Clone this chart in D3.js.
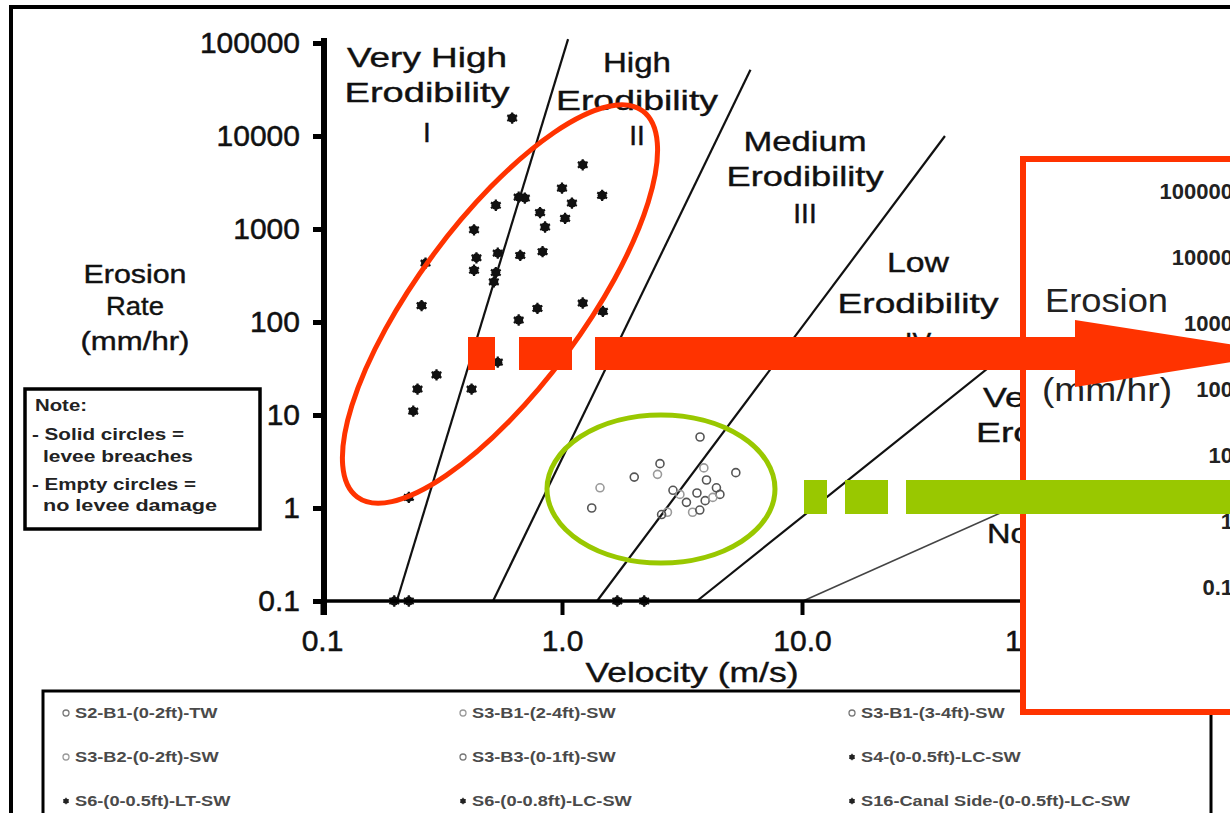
<!DOCTYPE html>
<html>
<head>
<meta charset="utf-8">
<script src="https://cdn.jsdelivr.net/npm/d3@7"></script>
<style>
  body { margin: 0; background: #fff; }
  svg text { font-family: "Liberation Sans", Arial, sans-serif; }
</style>
</head>
<body>
<svg id="chart"></svg>
<script>
// ---- data ----
const yTickValues = [0.1, 1, 10, 100, 1000, 10000, 100000];
const yTickLabels = ["0.1", "1", "10", "100", "1000", "10000", "100000"];
const xTickValues = [0.1, 1, 10, 100];
const xTickLabels = ["0.1", "1.0", "10.0", "100.0"];

// erodibility category boundaries [velocity m/s, erosion mm/hr]
const boundaryI_II = [[0.205, 0.1], [1.06, 110000]];
const boundaryII_III = [[0.516, 0.1], [6.1, 51500]];
const boundaryIII_IV = [[1.40, 0.1], [39.4, 10000]];
const boundaryIV_V = [[3.65, 0.1], [100, 93]];
const boundaryV_VI = [[10.1, 0.1], [100, 1.4]];

const zoneNames = [
  ["Very High", "Erodibility", "I"],
  ["High", "Erodibility", "II"],
  ["Medium", "Erodibility", "III"],
  ["Low", "Erodibility", "IV"],
  ["Very Low", "Erodibility", "V"],
  ["Non-Erodible", "VI"]
];

// solid circles = levee breaches
const breachPoints = [
  [0.62, 15600], [1.22, 4900], [1.0, 2750], [1.47, 2300], [0.70, 2150], [0.66, 2200],
  [0.53, 1800], [1.10, 1900], [0.81, 1500], [1.03, 1300], [0.85, 1050], [0.43, 980],
  [0.54, 550], [0.67, 520], [0.83, 570], [0.27, 430], [0.44, 490], [0.43, 360],
  [0.53, 340], [0.52, 270], [0.26, 150], [1.22, 160], [1.48, 130], [0.79, 140],
  [0.66, 105], [0.54, 37], [0.30, 27], [0.25, 19], [0.42, 19], [0.24, 11],
  [0.23, 1.3], [0.20, 0.1], [0.23, 0.1], [1.7, 0.1], [2.2, 0.1]
];

// empty circles = no levee damage
const noDamagePoints = [
  [3.76, 5.8], [2.56, 3.0], [2.5, 2.3], [2.0, 2.15], [5.3, 2.4], [1.44, 1.65],
  [1.33, 1.0], [2.9, 1.55], [3.9, 2.7], [4.0, 2.0], [4.4, 1.65], [3.1, 1.4],
  [3.65, 1.45], [3.95, 1.2], [3.5, 0.9], [4.55, 1.4], [3.3, 1.15], [2.75, 0.9],
  [2.6, 0.85], [3.75, 0.95], [4.25, 1.3]
];

const legendNames = [
  "S2-B1-(0-2ft)-TW", "S3-B1-(2-4ft)-SW", "S3-B1-(3-4ft)-SW",
  "S3-B2-(0-2ft)-SW", "S3-B3-(0-1ft)-SW", "S4-(0-0.5ft)-LC-SW",
  "S6-(0-0.5ft)-LT-SW", "S6-(0-0.8ft)-LC-SW", "S16-Canal Side-(0-0.5ft)-LC-SW"
];
const legendBreached = [false, false, false, false, false, true, true, true, true];

const noteLines = ["Note:", "- Solid circles =", "levee breaches", "- Empty circles =", "no levee damage"];
const insetTickValues = [0.1, 1, 10, 100, 1000, 10000, 100000];
const insetTickLabels = ["0.1", "1", "10", "100", "1000", "10000", "100000"];

// ---- layout ----
const W = 1230, H = 813;
const RED = "#ff3300", GREEN = "#99c800";

const svg = d3.select("#chart").attr("width", W).attr("height", H);

const x = d3.scaleLog().domain([0.1, 100]).range([322, 1042]);
const y = d3.scaleLog().domain([0.1, 100000]).range([601, 43]);

function stretch(sel, width) {
  sel.attr("textLength", width).attr("lengthAdjust", "spacingAndGlyphs");
}

// anything left of the inset box
svg.append("clipPath").attr("id", "leftOfInset")
  .append("rect").attr("x", 0).attr("y", 0).attr("width", 1021).attr("height", H);

// outer frame
svg.append("line").attr("x1", 9).attr("x2", W).attr("y1", 7).attr("y2", 7)
  .attr("stroke", "#000").attr("stroke-width", 4);
svg.append("line").attr("x1", 11).attr("x2", 11).attr("y1", 5).attr("y2", H)
  .attr("stroke", "#000").attr("stroke-width", 4);

// legend box
svg.append("rect").attr("x", 43).attr("y", 691).attr("width", 1168).attr("height", 160)
  .attr("fill", "#fff").attr("stroke", "#000").attr("stroke-width", 3);

const legCols = [66, 463, 852];
const legRows = [713, 757, 801];
const leg = svg.append("g").selectAll("g").data(legendNames).join("g")
  .attr("transform", (d, i) => `translate(${legCols[i % 3]},${legRows[Math.floor(i / 3)]})`);
leg.each(function (d, i) {
  const g = d3.select(this);
  if (legendBreached[i]) {
    g.append("circle").attr("r", 2.6).attr("fill", "#222");
    g.append("path").attr("d", d3.symbol(d3.symbolAsterisk, 28)()).attr("stroke", "#222").attr("stroke-width", 1.2);
  } else {
    g.append("circle").attr("r", 3).attr("fill", "none").attr("stroke", i % 2 ? "#999" : "#777").attr("stroke-width", 1.3);
  }
});
leg.append("text").attr("x", 9).attr("dy", "0.35em")
  .attr("font-size", 14).attr("font-weight", "bold").attr("fill", "#4a4a4a")
  .text(d => d)
  .each(function () { stretch(d3.select(this), this.getComputedTextLength() * 1.3); });

// note box
svg.append("rect").attr("x", 25).attr("y", 389).attr("width", 235).attr("height", 140)
  .attr("fill", "#fff").attr("stroke", "#000").attr("stroke-width", 3.5);
const noteLayout = [[35, 411, 52], [32, 440, 152], [43, 462, 150], [32, 490, 164], [43, 511, 174]];
svg.append("g").selectAll("text").data(noteLines).join("text")
  .attr("x", (d, i) => noteLayout[i][0]).attr("y", (d, i) => noteLayout[i][1])
  .attr("font-size", 16).attr("font-weight", "bold").attr("fill", "#222")
  .text(d => d)
  .each(function (d, i) { stretch(d3.select(this), noteLayout[i][2]); });

// left axis title
const yTitle = [["Erosion", 283, 103], ["Rate", 315, 58], ["(mm/hr)", 350, 109]];
svg.append("g").selectAll("text").data(yTitle).join("text")
  .attr("x", 135).attr("y", d => d[1]).attr("text-anchor", "middle")
  .attr("font-size", 26).attr("fill", "#111").attr("stroke", "#111").attr("stroke-width", 0.4)
  .text(d => d[0])
  .each(function (d) { stretch(d3.select(this), d[2]); });

// x axis title
svg.append("text").attr("x", 692).attr("y", 682).attr("text-anchor", "middle")
  .attr("font-size", 28).attr("fill", "#111").attr("stroke", "#111").attr("stroke-width", 0.4)
  .text("Velocity (m/s)")
  .call(s => stretch(s, 213));

// category boundary lines
const lineGen = d3.line().x(d => x(d[0])).y(d => y(d[1]));
const boundaries = [boundaryI_II, boundaryII_III, boundaryIII_IV, boundaryIV_V, boundaryV_VI];
svg.append("g").selectAll("path").data(boundaries).join("path")
  .attr("d", lineGen).attr("fill", "none")
  .attr("stroke", (d, i) => i === 4 ? "#444" : "#111")
  .attr("stroke-width", (d, i) => i === 4 ? 1.6 : 2.2);

// category labels
const zoneLayout = [
  { cx: 427, ys: [67, 102, 142], ws: [160, 165, 0] },
  { cx: 637, ys: [72, 110, 145], ws: [68, 162, 0] },
  { cx: 805, ys: [151, 186, 223], ws: [123, 157, 0] },
  { cx: 918, ys: [272, 313, 352], ws: [62, 161, 0] },
  { cx: 1057, ys: [407, 442, 480], ws: [148, 162, 0] },
  { cx: 1082, ys: [543, 580], ws: [190, 0] }
];
const zoneG = svg.append("g").attr("clip-path", "url(#leftOfInset)");
zoneNames.forEach((lines, zi) => {
  const lay = zoneLayout[zi];
  lines.forEach((t, li) => {
    const txt = zoneG.append("text").attr("x", lay.cx).attr("y", lay.ys[li])
      .attr("text-anchor", "middle").attr("font-size", 28).attr("fill", "#111")
      .attr("stroke", "#111").attr("stroke-width", 0.4).text(t);
    if (lay.ws[li]) stretch(txt, lay.ws[li]);
  });
});

// points
svg.append("g").selectAll("circle").data(noDamagePoints).join("circle")
  .attr("cx", d => x(d[0])).attr("cy", d => y(d[1])).attr("r", 4)
  .attr("fill", "none").attr("stroke", (d, i) => i % 3 === 2 ? "#9a9a9a" : "#555")
  .attr("stroke-width", 1.6);

const solid = svg.append("g").selectAll("g").data(breachPoints).join("g")
  .attr("transform", d => `translate(${x(d[0])},${y(d[1])})`);
solid.append("circle").attr("r", 4.5).attr("fill", "#111");
solid.append("path").attr("d", d3.symbol(d3.symbolAsterisk, 90)())
  .attr("stroke", "#111").attr("stroke-width", 2.2);

// axes
const yAxis = svg.append("g").attr("transform", "translate(324,0)")
  .call(d3.axisLeft(y).tickValues(yTickValues)
    .tickFormat((d, i) => yTickLabels[i]).tickSize(11).tickPadding(13));
yAxis.select(".domain").remove();
yAxis.selectAll(".tick line").attr("stroke", "#000").attr("stroke-width", 5);
yAxis.selectAll(".tick text").attr("font-size", 30).attr("fill", "#111")
  .attr("stroke", "#111").attr("stroke-width", 0.5)
  .attr("font-family", "Liberation Sans, Arial, sans-serif");
svg.append("line").attr("x1", 324).attr("x2", 324).attr("y1", 38).attr("y2", 615)
  .attr("stroke", "#000").attr("stroke-width", 6);

const xAxis = svg.append("g").attr("transform", "translate(0,601)")
  .call(d3.axisBottom(x).tickValues(xTickValues)
    .tickFormat((d, i) => xTickLabels[i]).tickSize(14).tickPadding(15));
xAxis.select(".domain").remove();
xAxis.selectAll(".tick line").attr("stroke", "#000").attr("stroke-width", 4);
xAxis.selectAll(".tick text").attr("font-size", 30).attr("fill", "#111")
  .attr("stroke", "#111").attr("stroke-width", 0.5)
  .attr("font-family", "Liberation Sans, Arial, sans-serif");
svg.append("line").attr("x1", 322).attr("x2", W).attr("y1", 601).attr("y2", 601)
  .attr("stroke", "#000").attr("stroke-width", 3.5);

// highlight ellipses (centres in data units)
const redCentre = [0.5516, 156];
const greenCentre = [2.585, 1.6];
svg.append("ellipse")
  .attr("transform", `translate(${x(redCentre[0])},${y(redCentre[1])}) rotate(-53.5)`)
  .attr("rx", 240).attr("ry", 83)
  .attr("fill", "none").attr("stroke", RED).attr("stroke-width", 5);
svg.append("ellipse")
  .attr("cx", x(greenCentre[0])).attr("cy", y(greenCentre[1]))
  .attr("rx", 114).attr("ry", 74)
  .attr("fill", "none").attr("stroke", GREEN).attr("stroke-width", 5);

// zoomed inset of the source chart
const inset = svg.append("g");
inset.append("rect").attr("x", 1023).attr("y", 159).attr("width", 260).attr("height", 553)
  .attr("fill", "#fff").attr("stroke", RED).attr("stroke-width", 6);
const yInset = d3.scaleLog().domain([0.1, 100000]).range([587, 191]);
const insetAxis = inset.append("g").attr("transform", "translate(1245,0)")
  .call(d3.axisLeft(yInset).tickValues(insetTickValues)
    .tickFormat((d, i) => insetTickLabels[i]).tickSize(6).tickPadding(6));
insetAxis.select(".domain").remove();
insetAxis.selectAll(".tick text").attr("font-size", 22).attr("font-weight", "bold")
  .attr("fill", "#222").attr("font-family", "Liberation Sans, Arial, sans-serif");
inset.append("text").attr("x", 1045).attr("y", 312).attr("font-size", 33).attr("fill", "#222")
  .text("Erosion").call(s => stretch(s, 123));
inset.append("text").attr("x", 1042).attr("y", 401).attr("font-size", 33).attr("fill", "#222")
  .text("(mm/hr)").call(s => stretch(s, 130));

// arrows
const redArrow = svg.append("g").attr("fill", RED);
[[468, 495], [519, 572], [595, 1076]].forEach(s =>
  redArrow.append("rect").attr("x", s[0]).attr("y", 337).attr("width", s[1] - s[0]).attr("height", 33));
redArrow.append("polygon").attr("points", "1075,320 1287,353 1075,387");

const greenArrow = svg.append("g").attr("fill", GREEN);
[[804, 827], [845, 888], [906, W]].forEach(s =>
  greenArrow.append("rect").attr("x", s[0]).attr("y", 480).attr("width", s[1] - s[0]).attr("height", 34));
</script>
</body>
</html>
